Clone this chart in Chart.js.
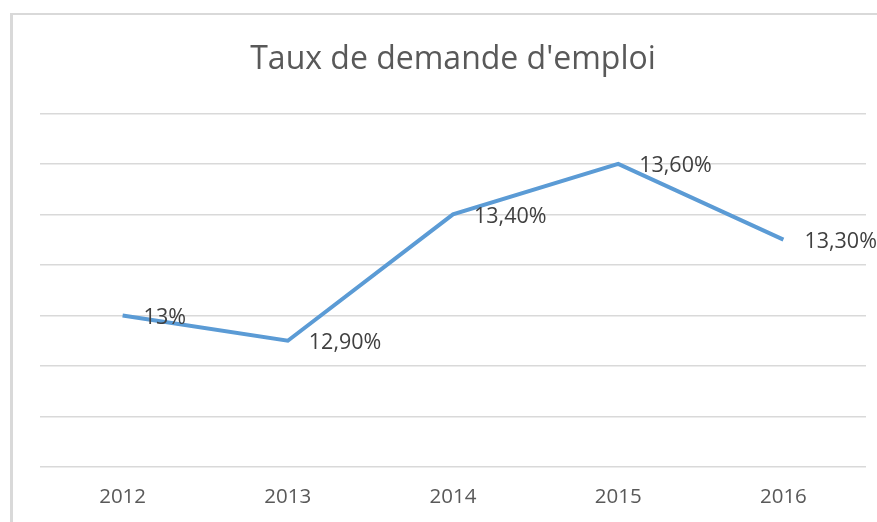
<!DOCTYPE html>
<html>
<head>
<meta charset="utf-8">
<script src="https://cdn.jsdelivr.net/npm/chart.js@4"></script>
<style>
  html, body { margin: 0; padding: 0; background: #fff; overflow: hidden; }
  #frame {
    position: absolute; left: 10px; top: 13px; width: 900px; height: 600px;
    border-top: 2px solid #d9d9d9; border-left: 3px solid #d9d9d9;
  }
  #chart { position: absolute; left: 0; top: 0; }
</style>
</head>
<body>
<div id="frame"></div>
<canvas id="chart" width="877" height="522"></canvas>
<script>
// données
var years = ['2012', '2013', '2014', '2015', '2016'];
var rates = [13.0, 12.9, 13.4, 13.6, 13.3];
var rateLabels = ['13%', '12,90%', '13,40%', '13,60%', '13,30%'];

// étiquettes de valeurs à droite des points
var valueLabels = {
    id: 'valueLabels',
    afterDatasetsDraw: function (chart) {
        var ctx = chart.ctx;
        var meta = chart.getDatasetMeta(0);
        ctx.save();
        ctx.font = '21.5px "Open Sans"';
        ctx.fillStyle = '#404040';
        ctx.textAlign = 'left';
        ctx.textBaseline = 'middle';
        meta.data.forEach(function (pt, i) {
            ctx.fillText(rateLabels[i], pt.x + 21, pt.y + 2);
        });
        ctx.restore();
    }
};

new Chart(document.getElementById('chart'), {
    type: 'line',
    data: {
        labels: years,
        datasets: [{
            data: rates,
            borderColor: '#5b9bd5',
            borderWidth: 4,
            pointRadius: 0,
            tension: 0,
            fill: false
        }]
    },
    options: {
        responsive: false,
        animation: false,
        layout: {
            padding: { left: 40, right: 11, top: 0, bottom: 12 }
        },
        plugins: {
            legend: { display: false },
            tooltip: { enabled: false },
            title: {
                display: true,
                text: "Taux de demande d'emploi",
                color: '#595959',
                font: { family: 'Open Sans', size: 32, weight: 'normal' },
                padding: { top: 41, bottom: 34 }
            }
        },
        scales: {
            x: {
                offset: true,
                grid: { display: false, drawTicks: false },
                border: { display: false },
                ticks: {
                    color: '#595959',
                    font: { family: 'Open Sans', size: 20.5 },
                    padding: 18
                },
                afterFit: function (scale) { scale.height = 43; }
            },
            y: {
                min: 12.4,
                max: 13.8,
                grid: { color: '#d9d9d9', lineWidth: 1.5, drawTicks: false },
                border: { display: false },
                ticks: { display: false, stepSize: 0.2 }
            }
        }
    },
    plugins: [valueLabels]
});
</script>
</body>
</html>
